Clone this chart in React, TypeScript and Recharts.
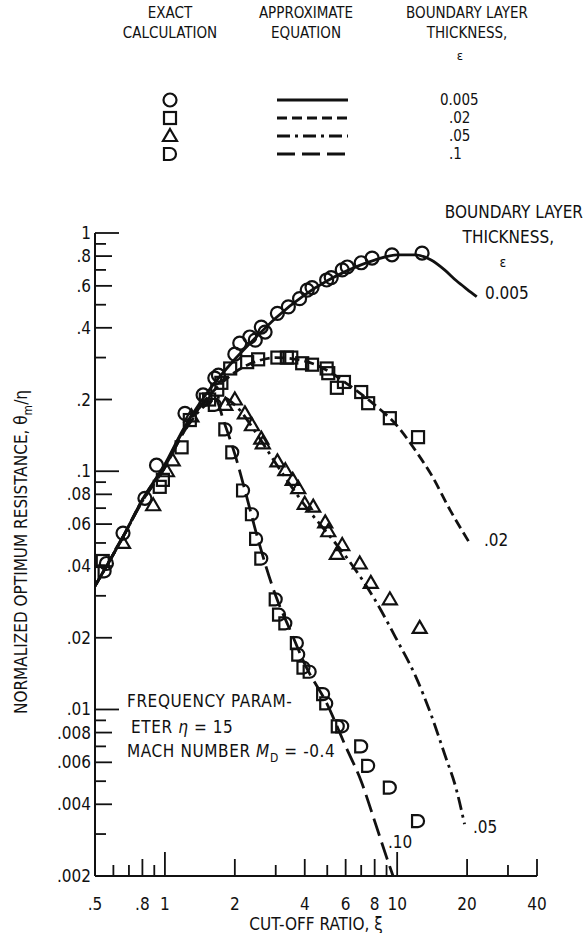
import React from "react";
import { ComposedChart, Line, Scatter, XAxis, YAxis } from "recharts";

const FONT = "'DejaVu Sans Condensed', 'DejaVu Sans', sans-serif";
const INK = "#111";

// exact calculation, one list per boundary layer thickness
const exact005 = [
  { x: 0.56, y: 0.041 }, { x: 0.66, y: 0.055 }, { x: 0.82, y: 0.077 }, { x: 0.92, y: 0.106 },
  { x: 1.22, y: 0.175 }, { x: 1.46, y: 0.209 }, { x: 1.64, y: 0.246 }, { x: 1.7, y: 0.253 },
  { x: 2.0, y: 0.31 }, { x: 2.1, y: 0.345 }, { x: 2.32, y: 0.366 }, { x: 2.45, y: 0.355 },
  { x: 2.6, y: 0.403 }, { x: 2.7, y: 0.384 }, { x: 3.05, y: 0.46 }, { x: 3.4, y: 0.49 },
  { x: 3.8, y: 0.53 }, { x: 4.1, y: 0.576 }, { x: 4.3, y: 0.59 }, { x: 4.97, y: 0.635 },
  { x: 5.2, y: 0.65 }, { x: 5.8, y: 0.7 }, { x: 6.1, y: 0.72 }, { x: 7.0, y: 0.75 },
  { x: 7.8, y: 0.785 }, { x: 9.5, y: 0.81 }, { x: 12.8, y: 0.824 },
];
const exact02 = [
  { x: 0.54, y: 0.042 }, { x: 0.95, y: 0.086 }, { x: 0.98, y: 0.092 }, { x: 1.18, y: 0.126 },
  { x: 1.28, y: 0.164 }, { x: 1.55, y: 0.2 }, { x: 1.68, y: 0.22 }, { x: 1.75, y: 0.235 },
  { x: 1.91, y: 0.27 }, { x: 2.26, y: 0.287 }, { x: 2.52, y: 0.295 }, { x: 3.05, y: 0.3 },
  { x: 3.35, y: 0.3 }, { x: 3.5, y: 0.3 }, { x: 3.9, y: 0.284 }, { x: 4.3, y: 0.28 },
  { x: 4.97, y: 0.27 }, { x: 5.05, y: 0.258 }, { x: 5.5, y: 0.224 }, { x: 5.9, y: 0.237 },
  { x: 7.0, y: 0.215 }, { x: 7.5, y: 0.193 }, { x: 9.3, y: 0.167 }, { x: 12.3, y: 0.139 },
];
const exact05 = [
  { x: 0.66, y: 0.05 }, { x: 0.89, y: 0.072 }, { x: 1.02, y: 0.1 }, { x: 1.08, y: 0.111 },
  { x: 1.3, y: 0.17 }, { x: 1.82, y: 0.19 }, { x: 2.0, y: 0.2 }, { x: 2.21, y: 0.175 },
  { x: 2.37, y: 0.156 }, { x: 2.6, y: 0.137 }, { x: 2.64, y: 0.131 }, { x: 3.05, y: 0.11 },
  { x: 3.3, y: 0.101 }, { x: 3.55, y: 0.092 }, { x: 3.75, y: 0.085 }, { x: 4.0, y: 0.073 },
  { x: 4.35, y: 0.071 }, { x: 4.9, y: 0.061 }, { x: 5.05, y: 0.056 }, { x: 5.5, y: 0.045 },
  { x: 5.8, y: 0.049 }, { x: 6.9, y: 0.041 }, { x: 7.7, y: 0.034 }, { x: 9.3, y: 0.029 },
  { x: 12.5, y: 0.022 },
];
const exact10 = [
  { x: 0.55, y: 0.038 }, { x: 1.5, y: 0.2 }, { x: 1.64, y: 0.19 }, { x: 1.82, y: 0.15 },
  { x: 1.95, y: 0.12 }, { x: 2.17, y: 0.083 }, { x: 2.37, y: 0.066 }, { x: 2.47, y: 0.052 },
  { x: 2.6, y: 0.043 }, { x: 3.0, y: 0.029 }, { x: 3.1, y: 0.025 }, { x: 3.3, y: 0.023 },
  { x: 3.7, y: 0.019 }, { x: 3.75, y: 0.017 }, { x: 3.95, y: 0.015 }, { x: 4.2, y: 0.0144 },
  { x: 4.8, y: 0.0116 }, { x: 4.95, y: 0.0106 }, { x: 5.55, y: 0.0085 }, { x: 5.8, y: 0.0085 },
  { x: 7.0, y: 0.007 }, { x: 7.5, y: 0.0058 }, { x: 9.3, y: 0.0047 }, { x: 12.3, y: 0.0034 },
];

// approximate equation curves
const approx005 = [
  { x: 0.5, y: 0.033 }, { x: 0.66, y: 0.053 }, { x: 0.8, y: 0.076 }, { x: 1, y: 0.107 },
  { x: 1.2, y: 0.15 }, { x: 1.5, y: 0.21 }, { x: 2, y: 0.295 }, { x: 2.5, y: 0.37 },
  { x: 3, y: 0.44 }, { x: 4, y: 0.55 }, { x: 5, y: 0.63 }, { x: 6, y: 0.69 },
  { x: 8, y: 0.77 }, { x: 10, y: 0.81 }, { x: 12, y: 0.81 }, { x: 14, y: 0.77 },
  { x: 16, y: 0.7 }, { x: 18, y: 0.63 }, { x: 20, y: 0.58 }, { x: 22, y: 0.54 },
];
const approx02 = [
  { x: 0.5, y: 0.033 }, { x: 0.66, y: 0.053 }, { x: 0.8, y: 0.076 }, { x: 1, y: 0.106 },
  { x: 1.2, y: 0.148 }, { x: 1.5, y: 0.2 }, { x: 2, y: 0.26 }, { x: 2.5, y: 0.29 },
  { x: 3, y: 0.3 }, { x: 4, y: 0.29 }, { x: 5, y: 0.265 }, { x: 6, y: 0.235 },
  { x: 8, y: 0.19 }, { x: 10, y: 0.155 }, { x: 12, y: 0.122 }, { x: 14, y: 0.097 },
  { x: 17, y: 0.068 }, { x: 20.5, y: 0.05 },
];
const approx05 = [
  { x: 0.5, y: 0.033 }, { x: 0.66, y: 0.053 }, { x: 0.8, y: 0.075 }, { x: 1, y: 0.104 },
  { x: 1.2, y: 0.145 }, { x: 1.5, y: 0.19 }, { x: 1.75, y: 0.205 }, { x: 2, y: 0.19 },
  { x: 2.5, y: 0.142 }, { x: 3, y: 0.108 }, { x: 4, y: 0.072 }, { x: 5, y: 0.055 },
  { x: 6, y: 0.044 }, { x: 8, y: 0.029 }, { x: 10, y: 0.0195 }, { x: 12, y: 0.0138 },
  { x: 14, y: 0.0095 }, { x: 16, y: 0.0065 }, { x: 18, y: 0.0046 }, { x: 19.5, y: 0.0033 },
];
const approx10 = [
  { x: 0.5, y: 0.033 }, { x: 0.66, y: 0.053 }, { x: 0.8, y: 0.075 }, { x: 1, y: 0.104 },
  { x: 1.2, y: 0.145 }, { x: 1.5, y: 0.195 }, { x: 1.65, y: 0.2 }, { x: 1.8, y: 0.16 },
  { x: 2, y: 0.118 }, { x: 2.25, y: 0.078 }, { x: 2.5, y: 0.053 }, { x: 3, y: 0.03 },
  { x: 3.5, y: 0.021 }, { x: 4, y: 0.0155 }, { x: 5, y: 0.0105 }, { x: 6, y: 0.007 },
  { x: 7, y: 0.005 }, { x: 8, y: 0.0034 }, { x: 9, y: 0.0024 }, { x: 9.6, y: 0.002 },
];

const xTicks = [0.5, 0.6, 0.7, 0.8, 0.9, 1, 2, 3, 4, 5, 6, 7, 8, 9, 10, 20, 30, 40];
const xTickLabels = [".5", "", "", ".8", "", "1", "2", "", "4", "", "6", "", "8", "", "10", "20", "", "40"];
const yTicks = [
  0.002, 0.003, 0.004, 0.005, 0.006, 0.007, 0.008, 0.009,
  0.01, 0.02, 0.03, 0.04, 0.05, 0.06, 0.07, 0.08, 0.09,
  0.1, 0.2, 0.3, 0.4, 0.5, 0.6, 0.7, 0.8, 0.9, 1,
];
const yTickLabels = [
  ".002", "", ".004", "", ".006", "", ".008", "",
  ".01", ".02", "", ".04", "", ".06", "", ".08", "",
  ".1", ".2", "", ".4", "", ".6", "", ".8", "", "1",
];
const decadeLabels = ["1", "10", ".1", ".01"];

const tickLen = (label: string) => (decadeLabels.includes(label) ? 24 : label ? 17 : 11);

function XTick(props: any) {
  const { x, y, index } = props;
  const label = xTickLabels[index];
  return (
    <g>
      <line x1={x} x2={x} y1={y} y2={y - tickLen(label)} stroke={INK} strokeWidth={1.8} />
      {label && (
        <text x={x} y={y + 34} textAnchor="middle" fontFamily={FONT} fontSize={17} fill={INK}>
          {label}
        </text>
      )}
    </g>
  );
}

function YTick(props: any) {
  const { x, y, index } = props;
  const label = yTickLabels[index];
  return (
    <g>
      <line x1={x} x2={x + tickLen(label)} y1={y} y2={y} stroke={INK} strokeWidth={1.8} />
      {label && (
        <text x={x - 4} y={y + 6} textAnchor="end" fontFamily={FONT} fontSize={17} fill={INK}>
          {label}
        </text>
      )}
    </g>
  );
}

const mark = { fill: "none", stroke: INK, strokeWidth: 2.2 };
const circle = ({ cx, cy }: any) => <circle cx={cx} cy={cy} r={6.5} {...mark} />;
const square = ({ cx, cy }: any) => <rect x={cx - 6} y={cy - 6} width={12} height={12} {...mark} />;
const triangle = ({ cx, cy }: any) => (
  <path d={`M${cx} ${cy - 7} L${cx + 7} ${cy + 5} L${cx - 7} ${cy + 5} Z`} {...mark} />
);
const dee = ({ cx, cy }: any) => (
  <path d={`M${cx - 6} ${cy - 6} H${cx} A6 6 0 0 1 ${cx} ${cy + 6} H${cx - 6} Z`} {...mark} />
);

const dashes = { d02: "10 5", d05: "13 5 3 5", d10: "18 7" };

const txt = { fontFamily: FONT, fontSize: 17, fill: INK } as const;
const head = { fontFamily: FONT, fontSize: 15, fill: INK } as const;

const legendRows = [
  { shape: circle, dash: undefined, label: "0.005", y: 100, lx: 440 },
  { shape: square, dash: dashes.d02, label: ".02", y: 118, lx: 449 },
  { shape: triangle, dash: dashes.d05, label: ".05", y: 136, lx: 449 },
  { shape: dee, dash: dashes.d10, label: ".1", y: 154, lx: 449 },
];

export default function App() {
  return (
    <div style={{ position: "absolute", left: 0, top: 0, width: 586, height: 933, background: "#fff" }}>
      <ComposedChart width={586} height={933} margin={{ top: 233, right: 49, left: 0, bottom: 0 }}>
        <XAxis
          dataKey="x"
          type="number"
          scale="log"
          domain={[0.5, 40]}
          allowDataOverflow
          ticks={xTicks}
          interval={0}
          tick={<XTick />}
          tickSize={0}
          tickMargin={0}
          tickLine={false}
          axisLine={{ stroke: INK, strokeWidth: 2 }}
          height={57}
        />
        <YAxis
          dataKey="y"
          type="number"
          scale="log"
          domain={[0.002, 1]}
          allowDataOverflow
          ticks={yTicks}
          interval={0}
          tick={<YTick />}
          tickSize={0}
          tickMargin={0}
          tickLine={false}
          axisLine={{ stroke: INK, strokeWidth: 2 }}
          width={95}
        />
        <Line data={approx005} dataKey="y" type="monotone" stroke={INK} strokeWidth={2.8} dot={false} isAnimationActive={false} />
        <Line data={approx02} dataKey="y" type="monotone" stroke={INK} strokeWidth={2.8} strokeDasharray={dashes.d02} dot={false} isAnimationActive={false} />
        <Line data={approx05} dataKey="y" type="monotone" stroke={INK} strokeWidth={2.8} strokeDasharray={dashes.d05} dot={false} isAnimationActive={false} />
        <Line data={approx10} dataKey="y" type="monotone" stroke={INK} strokeWidth={2.8} strokeDasharray={dashes.d10} dot={false} isAnimationActive={false} />
        <Scatter data={exact005} shape={circle} isAnimationActive={false} />
        <Scatter data={exact02} shape={square} isAnimationActive={false} />
        <Scatter data={exact05} shape={triangle} isAnimationActive={false} />
        <Scatter data={exact10} shape={dee} isAnimationActive={false} />

        {/* legend block */}
        <g>
          <text x={170} y={18} textAnchor="middle" {...head}>EXACT</text>
          <text x={170} y={38} textAnchor="middle" {...head}>CALCULATION</text>
          <text x={306} y={18} textAnchor="middle" {...head}>APPROXIMATE</text>
          <text x={306} y={38} textAnchor="middle" {...head}>EQUATION</text>
          <text x={467} y={18} textAnchor="middle" {...head}>BOUNDARY LAYER</text>
          <text x={467} y={38} textAnchor="middle" {...head}>THICKNESS,</text>
          <text x={460} y={60} textAnchor="middle" {...head} fontSize={13}>ε</text>
          {legendRows.map((r) => (
            <g key={r.label}>
              {r.shape({ cx: 170, cy: r.y })}
              <line x1={277} x2={348} y1={r.y} y2={r.y} stroke={INK} strokeWidth={2.8} strokeDasharray={r.dash} />
              <text x={r.lx} y={r.y + 5} {...head}>{r.label}</text>
            </g>
          ))}
        </g>

        {/* right-hand curve labels */}
        <text x={583} y={218} textAnchor="end" {...txt}>BOUNDARY LAYER</text>
        <text x={554} y={243} textAnchor="end" {...txt}>THICKNESS,</text>
        <text x={503} y={267} textAnchor="middle" {...txt} fontSize={14}>ε</text>
        <text x={485} y={299} {...txt}>0.005</text>
        <text x={484} y={546} {...txt}>.02</text>
        <text x={473} y={833} {...txt}>.05</text>
        <text x={388} y={848} {...txt}>.10</text>

        {/* flow conditions */}
        <text x={127} y={707} {...txt} letterSpacing={0.6}>FREQUENCY PARAM-</text>
        <text x={131} y={733} {...txt} letterSpacing={0.6}>ETER <tspan fontStyle="italic">η</tspan> = 15</text>
        <text x={127} y={757} {...txt} letterSpacing={0.6}>
          MACH NUMBER  <tspan fontStyle="italic">M</tspan>
          <tspan dy={5} fontSize={12}>D</tspan>
          <tspan dy={-5}> = -0.4</tspan>
        </text>

        {/* axis titles */}
        <text x={27} y={552} textAnchor="middle" transform="rotate(-90 27 552)" {...txt}>
          NORMALIZED OPTIMUM RESISTANCE, θ<tspan dy={5} fontSize={12}>m</tspan>
          <tspan dy={-5}>/η</tspan>
        </text>
        <text x={316} y={930} textAnchor="middle" {...txt}>CUT-OFF RATIO, ξ</text>
      </ComposedChart>
    </div>
  );
}
